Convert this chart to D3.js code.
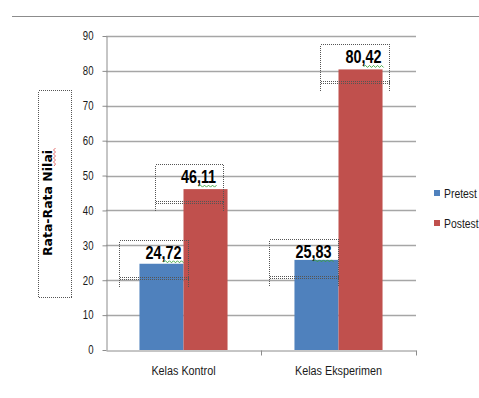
<!DOCTYPE html>
<html>
<head>
<meta charset="utf-8">
<script src="https://cdn.jsdelivr.net/npm/d3@7"></script>
<style>
  html, body { margin: 0; padding: 0; background: #fff; }
  svg { display: block; }
  .narrow { font-family: "Liberation Sans", Arial, sans-serif; }
</style>
</head>
<body>
<svg id="chart" width="479" height="398"></svg>
<script>
// Mean scores per class, before and after the treatment
const categories = ["Kelas Kontrol", "Kelas Eksperimen"];
const seriesNames = ["Pretest", "Postest"];
const pretest = [24.72, 25.83];
const postest = [46.11, 80.42];
const valueLabels = [["24,72", "46,11"], ["25,83", "80,42"]];
const yTicks = [0, 10, 20, 30, 40, 50, 60, 70, 80, 90];
const yTitle = "Rata-Rata Nilai";
const colors = ["#4f81bd", "#c0504d"];

const svg = d3.select("#chart");

// squeeze text horizontally to get a narrow face
const SQUEEZE = 0.8;
function condense(sel) {
  sel.each(function () {
    const xv = +(this.getAttribute("x") || 0);
    d3.select(this).attr("x", xv / SQUEEZE).attr("transform", `scale(${SQUEEZE},1)`);
  });
  return sel;
}

// frame line across the top
svg.append("line")
  .attr("x1", 12).attr("x2", 479).attr("y1", 16.5).attr("y2", 16.5)
  .attr("stroke", "#8c8c8c").attr("stroke-width", 1);

const plot = { left: 106, right: 416, top: 36, bottom: 350 };

const x = d3.scaleBand().domain(categories).range([plot.left, plot.right]).padding(0);
const xs = d3.scaleBand().domain(seriesNames).range([0, x.bandwidth()])
  .paddingInner(0).paddingOuter(0.76);
const y = d3.scaleLinear().domain([0, 90]).range([plot.bottom, plot.top]);

// horizontal gridlines
svg.append("g").selectAll("line")
  .data(yTicks.filter(t => t > 0))
  .join("line")
  .attr("x1", plot.left).attr("x2", plot.right)
  .attr("y1", d => Math.round(y(d)) + 0.5).attr("y2", d => Math.round(y(d)) + 0.5)
  .attr("stroke", "#a6a6a6").attr("stroke-width", 1.6);

// bars
const rows = categories.map((c, i) => ({ cat: c, vals: [pretest[i], postest[i]], labels: valueLabels[i] }));
const groups = svg.append("g").selectAll("g")
  .data(rows).join("g")
  .attr("transform", d => `translate(${x(d.cat)},0)`);

groups.selectAll("rect")
  .data(d => d.vals.map((v, j) => ({ v, s: seriesNames[j], j })))
  .join("rect")
  .attr("x", d => xs(d.s))
  .attr("width", xs.bandwidth())
  .attr("y", d => y(d.v))
  .attr("height", d => y(0) - y(d.v))
  .attr("fill", d => colors[d.j]);

// y axis
const yAxis = svg.append("g")
  .attr("transform", `translate(${plot.left + 0.5},0)`)
  .call(d3.axisLeft(y).tickValues(yTicks).tickSize(4).tickPadding(9).tickSizeOuter(0));
yAxis.select(".domain").attr("stroke", "#8c8c8c");
yAxis.selectAll(".tick line").attr("stroke", "#8c8c8c");
condense(yAxis.selectAll("text")
  .attr("class", "narrow")
  .attr("font-size", 12).attr("fill", "#1a1a1a"));

// x axis: labels under each category, ticks on the category boundaries
const xAxis = svg.append("g")
  .attr("transform", `translate(0,${plot.bottom + 0.5})`)
  .call(d3.axisBottom(x).tickSize(0).tickPadding(15));
xAxis.select(".domain").attr("stroke", "#8c8c8c");
condense(xAxis.selectAll("text")
  .attr("class", "narrow")
  .attr("font-size", 13.5).attr("fill", "#1a1a1a"));
const bounds = categories.map(c => x(c)).concat([x.range()[1]]);
xAxis.append("g").selectAll("line")
  .data(bounds.slice(1))
  .join("line")
  .attr("x1", d => Math.round(d) + 0.5).attr("x2", d => Math.round(d) + 0.5)
  .attr("y1", 0).attr("y2", 5)
  .attr("stroke", "#8c8c8c");

// value labels with their dotted frames
const nudges = [[2, -7], [-3, 3]];
const lift = [[5, 6], [2, 6]];
const dotted = { stroke: "#555", "stroke-width": 1, "stroke-dasharray": "1,1", fill: "none", "shape-rendering": "crispEdges" };
function applyAttrs(sel, a) { Object.entries(a).forEach(([k, v]) => sel.attr(k, v)); return sel; }

rows.forEach((r, i) => {
  r.vals.forEach((v, j) => {
    const cx = x(r.cat) + xs(seriesNames[j]) + xs.bandwidth() / 2 + nudges[i][j];
    const base = y(v) - lift[i][j];
    const t = svg.append("text")
      .attr("class", "narrow")
      .attr("x", cx).attr("y", base)
      .attr("text-anchor", "middle")
      .attr("font-weight", "bold").attr("font-size", 18)
      .attr("fill", "#000")
      .text(r.labels[j]);
    condense(t);
    const w = t.node().getComputedTextLength() * SQUEEZE;
    const tx0 = cx - w / 2, tx1 = cx + w / 2;
    const bx0 = Math.round(tx0) - 25.5, bx1 = Math.round(tx1) + 7.5;
    const by0 = Math.round(base) - 18.5, by1 = by0 + 37;
    applyAttrs(svg.append("rect")
      .attr("x", bx0).attr("y", by0).attr("width", bx1 - bx0).attr("height", by1 - by0), dotted);
    applyAttrs(svg.append("line")
      .attr("x1", bx0).attr("x2", bx1).attr("y1", by1 + 2).attr("y2", by1 + 2), dotted);
    [bx0, bx1].forEach(xx => applyAttrs(svg.append("line")
      .attr("x1", xx).attr("x2", xx).attr("y1", by1).attr("y2", by1 + 10), dotted));
    // proofing squiggle under the decimals
    const sx0 = tx0 + w * 0.5, sx1 = tx1;
    let d = `M${sx0},${base + 3}`;
    for (let k = sx0, up = true; k < sx1; k += 2, up = !up) d += `L${k + 2},${base + (up ? 2 : 4)}`;
    svg.append("path").attr("d", d).attr("fill", "none")
      .attr("stroke", "#3aa33a").attr("stroke-width", 0.9);
  });
});

// y axis title in a dotted frame
applyAttrs(svg.append("rect").attr("x", 38.5).attr("y", 90.5).attr("width", 33).attr("height", 207), dotted);
svg.append("text")
  .attr("transform", "translate(52,203) rotate(-90)")
  .attr("text-anchor", "middle")
  .attr("font-family", "DejaVu Sans, sans-serif")
  .attr("font-weight", "bold").attr("font-size", 12.5)
  .attr("fill", "#000")
  .text(yTitle);
{
  let d = "M54,166";
  for (let k = 166, up = true; k > 148; k -= 2, up = !up) d += `L${up ? 55.5 : 53.5},${k - 2}`;
  svg.append("path").attr("d", d).attr("fill", "none").attr("stroke", "#e06060").attr("stroke-width", 0.9);
}

// legend
const legend = svg.append("g").selectAll("g")
  .data(seriesNames).join("g")
  .attr("transform", (d, i) => `translate(434,${190 + i * 30})`);
legend.append("rect").attr("width", 6).attr("height", 6).attr("fill", (d, i) => colors[i]);
condense(legend.append("text")
  .attr("class", "narrow")
  .attr("x", 10).attr("y", 8)
  .attr("font-size", 13).attr("fill", "#1a1a1a")
  .text(d => d));
</script>
</body>
</html>
